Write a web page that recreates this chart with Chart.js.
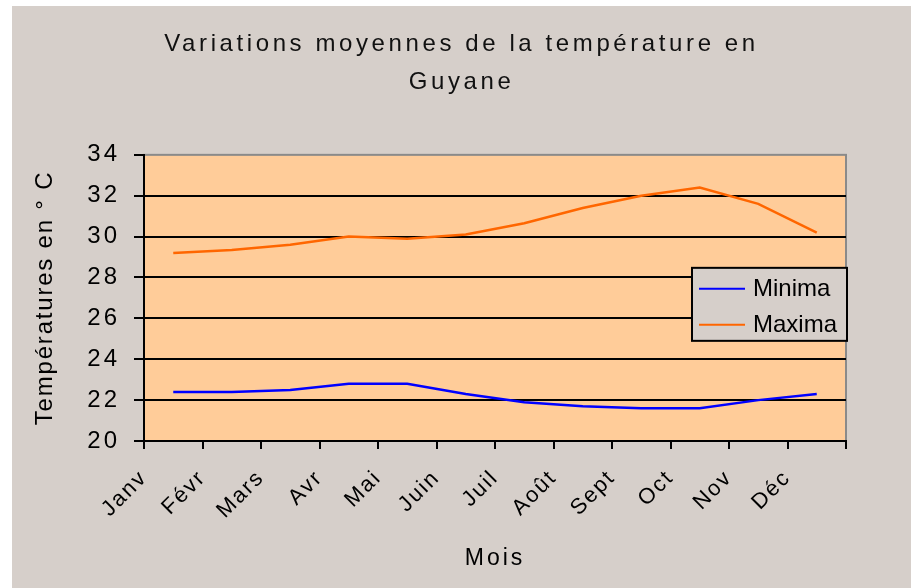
<!DOCTYPE html>
<html>
<head>
<meta charset="utf-8">
<script src="https://cdn.jsdelivr.net/npm/chart.js@4"></script>
<style>
  body { margin: 0; background: #fff; }
  #chart { position: absolute; left: 12px; top: 6px; background: #d6cfca; }
</style>
</head>
<body>
<canvas id="chart" width="899" height="582"></canvas>
<script>
// Monthly averages
const months = ['Janv', 'Févr', 'Mars', 'Avr', 'Mai', 'Juin', 'Juil', 'Août', 'Sept', 'Oct', 'Nov', 'Déc'];
const minima = [22.4, 22.4, 22.5, 22.8, 22.8, 22.3, 21.9, 21.7, 21.6, 21.6, 22.0, 22.3];
const maxima = [29.2, 29.35, 29.6, 30.0, 29.9, 30.1, 30.65, 31.4, 32.0, 32.4, 31.6, 30.2];
const seriesNames = ['Minima', 'Maxima'];
const titleLines = ['Variations moyennes de la température en', 'Guyane'];

const FONT = 'Liberation Sans';
Chart.defaults.font.family = FONT;
Chart.defaults.color = '#000';

// points sit in the middle of each month slot, labels sit on the slot edges
const toPoints = arr => arr.map((v, i) => ({ x: i + 0.5, y: v }));

// draw a box's text with some extra letter spacing (the original font is wide)
function withSpacing(obj, method, spacing) {
    const orig = obj[method];
    obj[method] = function (...args) {
        const ctx = this.ctx;
        ctx.save();
        ctx.letterSpacing = spacing;
        orig.apply(this, args);
        ctx.restore();
    };
}

const spacingPlugin = {
    id: 'spacing',
    beforeDraw(chart) {
        if (chart.$spaced) return;
        chart.$spaced = true;
        withSpacing(chart.titleBlock, 'draw', '3.6px');
        withSpacing(chart.scales.x, 'drawLabels', '2px');
        withSpacing(chart.scales.x, 'drawTitle', '3px');
        withSpacing(chart.scales.y, 'drawLabels', '3px');
        withSpacing(chart.scales.y, 'drawTitle', '1.8px');
    }
};

const plotAreaPlugin = {
    id: 'plotArea',
    beforeDraw(chart) {
        const { ctx, chartArea: a } = chart;
        ctx.save();
        ctx.fillStyle = '#ffcc99';
        ctx.fillRect(a.left, a.top, a.width, a.height);
        ctx.strokeStyle = '#8a8a8a';
        ctx.lineWidth = 2;
        ctx.strokeRect(a.left, a.top, a.width, a.height);
        ctx.restore();
    }
};

// legend box inside the plot, on the right edge
const boxLegendPlugin = {
    id: 'boxLegend',
    afterDatasetsDraw(chart) {
        const { ctx, chartArea: a } = chart;
        const w = 155, h = 73;
        const x = a.right - w + 1, y = a.top + 113;
        ctx.save();
        ctx.fillStyle = '#d6cfca';
        ctx.fillRect(x, y, w, h);
        ctx.strokeStyle = '#000';
        ctx.lineWidth = 2;
        ctx.strokeRect(x, y, w, h);
        ctx.font = '24px "' + FONT + '"';
        ctx.textBaseline = 'middle';
        ctx.fillStyle = '#000';
        chart.data.datasets.forEach((ds, i) => {
            const ly = y + 21 + i * 36;
            ctx.beginPath();
            ctx.moveTo(x + 7, ly);
            ctx.lineTo(x + 53, ly);
            ctx.strokeStyle = ds.borderColor;
            ctx.lineWidth = 2;
            ctx.stroke();
            ctx.fillText(ds.label, x + 61, ly + 1);
        });
        ctx.restore();
    }
};

new Chart(document.getElementById('chart'), {
    type: 'line',
    data: {
        datasets: [
            { label: seriesNames[0], data: toPoints(minima), borderColor: '#0000ff', borderWidth: 2.5 },
            { label: seriesNames[1], data: toPoints(maxima), borderColor: '#ff6600', borderWidth: 2.5 }
        ]
    },
    options: {
        responsive: false,
        animation: false,
        layout: { padding: 0 },
        elements: { point: { radius: 0 }, line: { tension: 0 } },
        plugins: {
            legend: { display: false },
            tooltip: { enabled: false },
            title: {
                display: true,
                text: titleLines,
                color: '#111',
                font: { size: 24, weight: 'normal', lineHeight: 1.58 },
                padding: { top: 19, bottom: 54 }
            }
        },
        scales: {
            x: {
                type: 'linear',
                min: 0,
                max: 12,
                afterFit: s => { s.height = 147; },
                border: { color: '#000', width: 2 },
                grid: { drawOnChartArea: false, drawTicks: true, tickLength: 8, tickColor: '#000', lineWidth: 2 },
                ticks: {
                    stepSize: 1,
                    autoSkip: false,
                    minRotation: 45,
                    maxRotation: 45,
                    padding: 16,
                    font: { size: 22 },
                    callback: v => months[v] || ''
                },
                title: { display: true, text: 'Mois', font: { size: 23 }, padding: { top: 0, bottom: 16 } }
            },
            y: {
                min: 20,
                max: 34,
                afterFit: s => { s.width = 132; },
                border: { color: '#000', width: 2 },
                grid: {
                    color: c => c.tick && c.tick.value === 34 ? 'rgba(0,0,0,0)' : '#000',
                    lineWidth: 2,
                    tickLength: 10,
                    tickColor: '#000'
                },
                ticks: { stepSize: 2, padding: 14, font: { size: 24 } },
                title: { display: true, text: 'Températures en ° C', font: { size: 24 }, padding: { top: 19, bottom: 0 } }
            },
            // empty right gutter so the title centres like the original
            y2: {
                position: 'right',
                afterFit: s => { s.width = 65; },
                grid: { display: false },
                border: { display: false },
                ticks: { display: false }
            }
        }
    },
    plugins: [plotAreaPlugin, spacingPlugin, boxLegendPlugin]
});
</script>
</body>
</html>
